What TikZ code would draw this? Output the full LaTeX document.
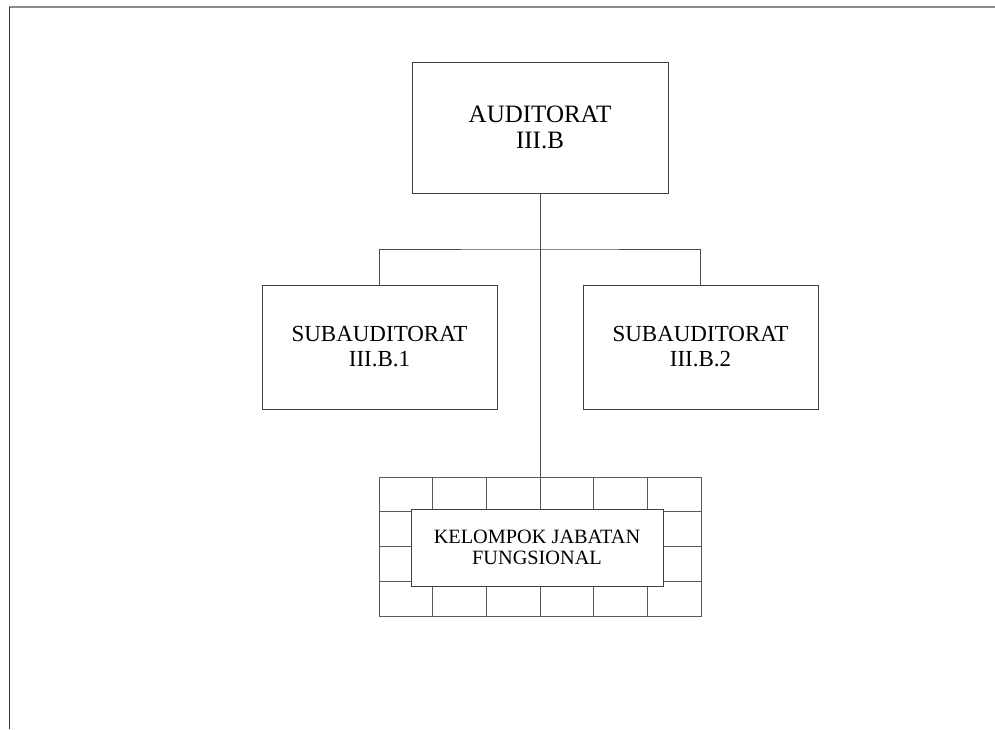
\documentclass[tikz,border=0pt]{standalone}
\usepackage{fontspec}
\setmainfont{Liberation Serif}
\usetikzlibrary{positioning}
\tikzset{
  unit/.style={draw=black!75, line width=0.8pt, align=center, fill=white, inner sep=0pt, outer sep=0pt},
  headbox/.style={unit, minimum width=256pt, minimum height=131pt, font=\fontsize{25}{26}\selectfont},
  subbox/.style={unit, minimum width=235pt, minimum height=124pt, font=\fontsize{23}{25}\selectfont},
  fungbox/.style={unit, minimum width=252pt, minimum height=77pt, font=\fontsize{20.3}{20.5}\selectfont},
  cell/.style={draw=black!65, line width=0.8pt},
  link/.style={draw=black!70, line width=0.8pt}}

\begin{document}
\begin{tikzpicture}[x=1pt, y=-1pt]
  \useasboundingbox (0,0) rectangle (995,729);
  % page frame
  \draw[black!45, line width=1.5pt] (995,7) -- (9,7);
  \draw[black!80, line width=1pt] (9,7) -- (9,729);

  \node[headbox] (audit) at (540,127.5) {AUDITORAT\\III.B};
  \node[subbox] (subone) at (379.5,347) {SUBAUDITORAT\\III.B.1};
  \node[subbox] (subtwo) at (700.5,347) {SUBAUDITORAT\\III.B.2};

  % tiled frame round the functional group
  \node[cell, minimum width=322pt, minimum height=139pt, inner sep=0pt, outer sep=0pt] (grid) at (540,546.5) {};
  \foreach \i in {1,...,5}
    \draw[cell] ([xshift=\i*53.667pt]grid.north west) -- ([xshift=\i*53.667pt]grid.south west);
  \foreach \j in {1,2,3}
    \draw[cell] ([yshift=-\j*34.75pt]grid.north west) -- ([yshift=-\j*34.75pt]grid.north east);
  \node[fungbox] (jafung) at (537,547.5) {KELOMPOK JABATAN\\FUNGSIONAL};

  \coordinate (fork) at (540,249);
  \draw[link] (audit.south) -- (grid.north);
  \draw[link] (subone.north) |- (fork) -| (subtwo.north);
\end{tikzpicture}
\end{document}
